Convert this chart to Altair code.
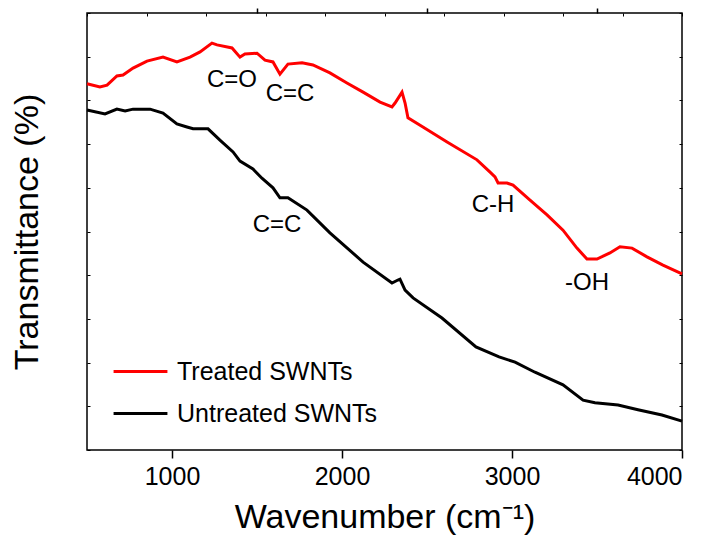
import altair as alt
import pandas as pd

# Treated SWNTs (red)
red_wn = [500, 576, 618, 676, 712, 771, 853, 947, 1029, 1106,
          1165, 1235, 1265, 1353, 1400, 1429, 1500, 1547, 1594, 1635,
          1682, 1765, 1829, 1929, 2029, 2124, 2224, 2294, 2312, 2353,
          2371, 2388, 2476, 2618, 2794, 2871, 2900, 2918, 2971, 3006,
          3106, 3206, 3300, 3382, 3441, 3500, 3576, 3635, 3706, 3794,
          3888, 4000]
red_t = [83.8, 83.1, 83.5, 85.6, 85.8, 87.4, 89.0, 89.9, 88.8, 89.9,
         91.1, 93.1, 92.7, 92.0, 89.9, 90.6, 90.8, 89.2, 88.8, 86.0,
         88.3, 88.6, 88.1, 86.3, 84.0, 81.9, 79.6, 78.5, 79.4, 81.9,
         79.4, 76.0, 73.9, 70.5, 66.4, 63.6, 62.5, 61.1, 61.1, 60.6,
         57.2, 53.8, 50.3, 46.2, 43.7, 43.7, 45.1, 46.5, 46.2, 44.2,
         42.3, 40.3]

# Untreated SWNTs (black)
black_wn = [500, 606, 676, 724, 771, 871, 947, 1029, 1088, 1124,
            1212, 1282, 1359, 1400, 1476, 1529, 1594, 1635, 1682, 1794,
            1929, 2124, 2294, 2329, 2341, 2371, 2418, 2588, 2788, 2924,
            3018, 3135, 3300, 3418, 3488, 3624, 3741, 3882, 4000]
black_t = [77.8, 76.9, 78.0, 77.6, 78.0, 78.0, 77.1, 74.6, 73.9, 73.5,
           73.5, 70.9, 68.2, 66.1, 64.3, 62.2, 60.0, 57.7, 57.7, 54.9,
           49.7, 43.0, 38.2, 38.9, 39.1, 36.6, 34.8, 30.2, 23.6, 21.3,
           20.1, 17.8, 14.9, 11.4, 10.8, 10.3, 9.2, 8.0, 6.6]

series_names = ["Treated SWNTs", "Untreated SWNTs"]
series_colors = ["#ff0000", "#000000"]

# Peak annotations
ann_text = ["C=O", "C=C", "C=C", "C-H", "-OH"]
ann_wn = [1353, 1694, 1618, 2888, 3441]
ann_t = [84.7, 81.5, 51.5, 56.1, 38.2]

# Tick values
x_major = [1000, 2000, 3000, 4000]
x_minor = [1500, 2500, 3500]
x_top = [500 + 350 * i for i in range(11)]
y_ticks = [10 * i for i in range(11)]

FONT = "Liberation Sans"

df = pd.concat([
    pd.DataFrame({"wn": red_wn, "t": red_t, "series": series_names[0], "o": range(len(red_wn))}),
    pd.DataFrame({"wn": black_wn, "t": black_t, "series": series_names[1], "o": range(len(black_wn))}),
])
ann = pd.DataFrame({"label": ann_text, "wn": ann_wn, "t": ann_t})

xs = alt.Scale(domain=[500, 4000], nice=False, zero=False)
ys = alt.Scale(domain=[0, 100], nice=False, zero=False)

lines = alt.Chart(df).mark_line(strokeWidth=3).encode(
    x=alt.X("wn:Q", scale=xs,
            axis=alt.Axis(values=x_major, format="d", tickSize=8, tickWidth=1.5,
                          tickColor="black", domain=False, grid=False, labelFontSize=25,
                          labelColor="black", labelPadding=6, labelFont=FONT,
                          title="Wavenumber (cm\u207b\u00b9)", titleFontSize=34,
                          titleFont=FONT, titleFontWeight="normal", titleColor="black",
                          titlePadding=11)),
    y=alt.Y("t:Q", scale=ys,
            axis=alt.Axis(values=y_ticks, tickSize=3, offset=-3, tickColor="black",
                          domain=False, grid=False, labels=False,
                          title="Transmittance (%)", titleFontSize=34, titleFont=FONT,
                          titleFontWeight="normal", titleColor="black", titlePadding=42)),
    color=alt.Color("series:N",
                    scale=alt.Scale(domain=series_names, range=series_colors),
                    legend=alt.Legend(orient="none", legendX=25, legendY=330, title=None,
                                      symbolType="stroke", symbolSize=2900,
                                      symbolStrokeWidth=3, labelFontSize=25,
                                      labelFont=FONT, labelColor="black", labelLimit=400,
                                      labelOffset=8, rowPadding=-16)),
    order="o:Q",
)

texts = alt.Chart(ann).mark_text(fontSize=24, font=FONT, color="black",
                                 align="center", baseline="middle").encode(
    x=alt.X("wn:Q", scale=xs,
            axis=alt.Axis(values=x_minor, tickSize=5, tickWidth=1.5, tickColor="black",
                          domain=False, grid=False, labels=False, title=None)),
    y=alt.Y("t:Q", scale=ys,
            axis=alt.Axis(orient="right", values=y_ticks, tickSize=3, offset=-3,
                          tickColor="black", domain=False, grid=False, labels=False,
                          title=None)),
    text="label:N",
)

top_ticks = alt.Chart(ann).mark_point(opacity=0).encode(
    x=alt.X("wn:Q", scale=xs,
            axis=alt.Axis(orient="top", values=x_top, tickSize=3, offset=-3,
                          tickColor="black", domain=False, grid=False, labels=False,
                          title=None)),
    y=alt.Y("t:Q", scale=ys, axis=None),
)

chart = alt.layer(lines, texts, top_ticks).resolve_axis(
    x="independent", y="independent"
).properties(
    width=595, height=437,
    padding={"left": 79, "top": 5, "right": 28, "bottom": 86},
    autosize=alt.AutoSizeParams(type="none"),
).configure_view(stroke="black", strokeWidth=1.5)

chart.save("out.html", embed_options={"renderer": "svg", "actions": False})
